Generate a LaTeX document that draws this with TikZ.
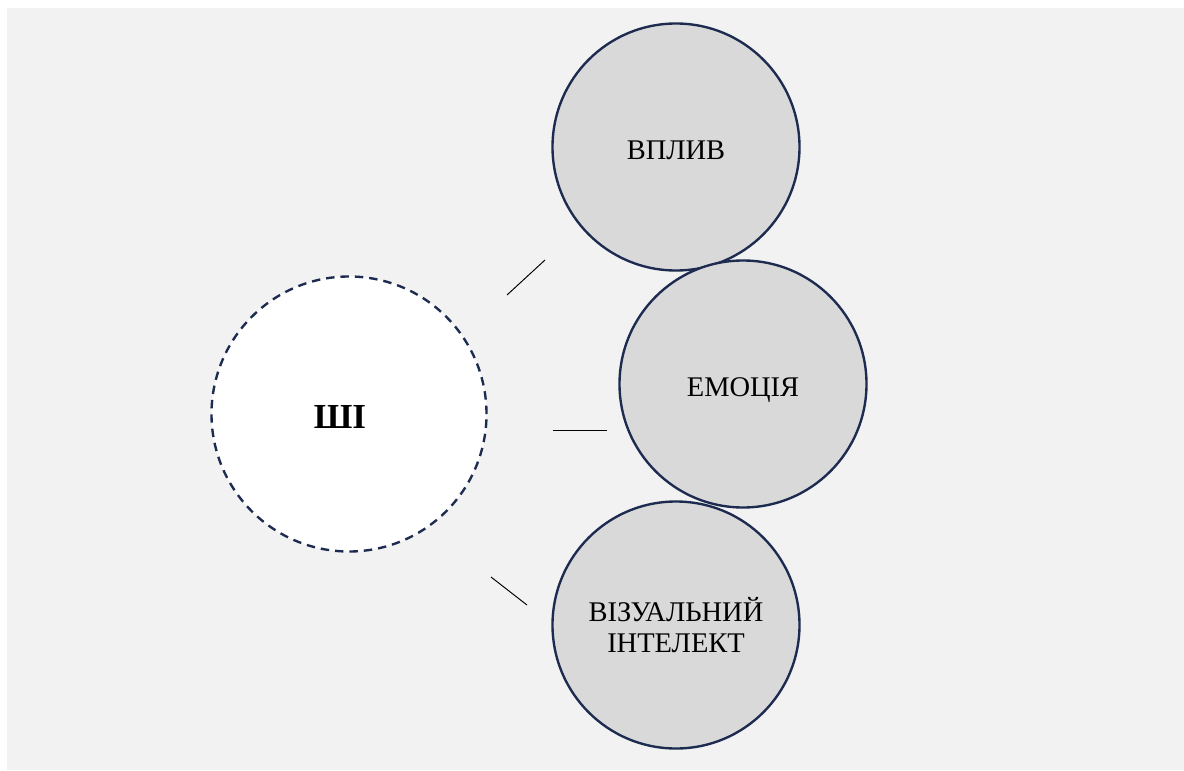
\documentclass[tikz,border=0pt]{standalone}
\usepackage{fontspec}
\setmainfont{Liberation Serif}
\usetikzlibrary{positioning}
\definecolor{navy}{HTML}{1C2B4F}
\definecolor{paper}{HTML}{F2F2F2}
\definecolor{disc}{HTML}{D9D9D9}

\begin{document}
\begin{tikzpicture}
\useasboundingbox (0,0) rectangle (23.68,15.4);
\fill[paper] (0.14,0) rectangle (23.68,15.24);
\tikzset{
  topic/.style={circle,draw=navy,line width=1.35pt,fill=disc,minimum size=4.94cm,inner sep=0pt,
    font=\fontsize{16.2}{17.6}\selectfont,align=center},
  oneline/.style={text height=0.49cm,text depth=0cm},
  core/.style={circle,draw=navy,line width=1.35pt,dashed,dash pattern=on 4.8pt off 3.4pt,fill=white,
    minimum size=5.5cm,inner sep=0pt},
  tie/.style={black,line width=0.55pt}
}
\node[core,label={[name=aitext,xshift=-0.18cm,yshift=-0.05cm,font=\fontsize{20}{24}\selectfont\bfseries]center:ШІ}] (ai) at (6.98,7.12) {};
\node[topic,oneline] (vplyv) at (13.52,12.46) {ВПЛИВ};
\node[topic,oneline] (emotsiia) at (14.86,7.72) {ЕМОЦІЯ};
\node[topic] (intelekt) at (13.52,2.9) {ВІЗУАЛЬНИЙ\\ІНТЕЛЕКТ};

\coordinate (t1a) at (10.14,9.5);
\coordinate (t1b) at (10.9,10.2);
\coordinate (t2a) at (11.06,6.8);
\coordinate (t2b) at (12.14,6.8);
\coordinate (t3a) at (9.82,3.86);
\coordinate (t3b) at (10.54,3.3);
\draw[tie] (t1a) -- (t1b);
\draw[tie] (t2a) -- (t2b);
\draw[tie] (t3a) -- (t3b);
\end{tikzpicture}
\end{document}
